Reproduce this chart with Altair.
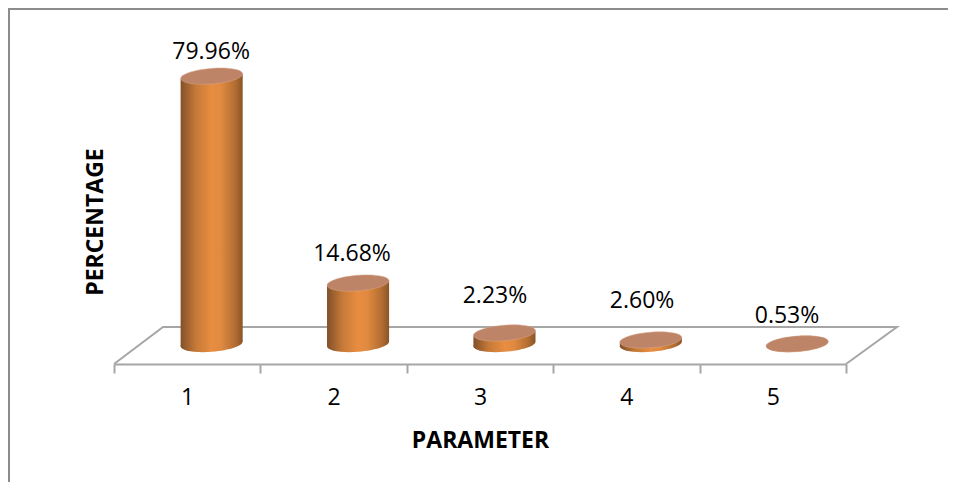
import altair as alt
import pandas as pd

categories = ["1", "2", "3", "4", "5"]
label_texts = ["79.96%", "14.68%", "2.23%", "2.60%", "0.53%"]
# Drawn height of each cylinder in percent units
drawn_heights = [79.96, 18.2, 3.3, 1.2, 0.05]
# Label placement relative to each cylinder
label_lift = [7.2, 8.7, 11.0, 11.6, 8.4]
label_nudge = [0.163, 0.126, 0.102, 0.107, 0.097]

DEPTH_X = 0.167      # the cylinders stand in the middle of the 3D floor
HALF_W = 0.212
TILT = 0.75
FLOOR_FRONT = -5.97
FLOOR_BACK = 5.07
FLOOR_DX = 0.335

FONT = "Open Sans"
GRAY = "#a6a6a6"
W, H = 732, 336
XDOM = [0, 5]
YDOM = [FLOOR_FRONT, 94.33]

centers = [i + 0.5 + DEPTH_X for i in range(5)]
xs = alt.Scale(domain=XDOM, nice=False, zero=False)
ys = alt.Scale(domain=YDOM, nice=False, zero=False)
X = alt.X("x:Q", scale=xs, axis=None)
Y = alt.Y("y:Q", scale=ys, axis=None)

# Band layer: carries the real category axis, ticks at band edges
band_df = pd.DataFrame({"cat": categories, "y": [0] * 5})
axis_layer = alt.Chart(band_df).mark_bar(opacity=0).encode(
    x=alt.X("cat:N", scale=alt.Scale(type="band", paddingInner=0, paddingOuter=0),
            axis=alt.Axis(title="PARAMETER", labelAngle=0, tickBand="extent", grid=False,
                          domainColor=GRAY, domainWidth=2, tickColor=GRAY, tickWidth=2, tickSize=9,
                          labelFont=FONT, labelFontSize=23, labelColor="#000000", labelPadding=13,
                          titleFont=FONT, titleFontSize=23, titleFontWeight="bold",
                          titleColor="#000000", titlePadding=20)),
    y=Y,
)

floor_df = pd.DataFrame({
    "x": [0, FLOOR_DX, 5 + FLOOR_DX + 0.013, 5],
    "y": [FLOOR_FRONT, FLOOR_BACK, FLOOR_BACK, FLOOR_FRONT],
    "o": [0, 1, 2, 3],
})
floor = alt.Chart(floor_df).mark_line(color=GRAY, strokeWidth=2, clip=False).encode(
    x=X, y=Y, order="o:O")

side = alt.LinearGradient(
    gradient="linear", x1=0, x2=1, y1=0, y2=0,
    stops=[alt.GradientStop(color="#82502a", offset=0),
           alt.GradientStop(color="#c67a38", offset=0.25),
           alt.GradientStop(color="#e88d41", offset=0.5),
           alt.GradientStop(color="#e08a40", offset=0.65),
           alt.GradientStop(color="#b36d32", offset=0.88),
           alt.GradientStop(color="#8a5426", offset=1)])

ELLIPSE = "M-1,0.08 A1,0.25 -4.6 1 1 1,-0.08 A1,0.25 -4.6 1 1 -1,0.08 Z"
SIZE = 3844

base_df = pd.DataFrame({"x": centers, "y": [0] * 5})
base = alt.Chart(base_df).mark_point(shape=ELLIPSE, size=SIZE, filled=True, opacity=1, color=side, strokeWidth=0).encode(
    x=X, y=Y)

rows = []
for c, cx, h in zip(categories, centers, drawn_heights):
    rows.append({"cat": c, "x": cx - HALF_W, "y": h - TILT, "y2": -TILT})
    rows.append({"cat": c, "x": cx + HALF_W, "y": h + TILT, "y2": TILT})
body = alt.Chart(pd.DataFrame(rows)).mark_area(color=side, clip=False, interpolate="linear").encode(
    x=X, y=Y, y2="y2:Q", detail="cat:N")

top_df = pd.DataFrame({"x": centers, "y": drawn_heights})
top = alt.Chart(top_df).mark_point(shape=ELLIPSE, size=SIZE, filled=True, opacity=1,
                                   fill="#bd8467", stroke="#d9a98f", strokeWidth=0.5).encode(
    x=X, y=Y)

label_df = pd.DataFrame({
    "x": [i + 0.5 + n for i, n in enumerate(label_nudge)],
    "y": [h + l for h, l in zip(drawn_heights, label_lift)],
    "t": label_texts,
})
labels = alt.Chart(label_df).mark_text(font=FONT, fontSize=23, color="#000000", baseline="middle", align="center").encode(
    x=X, y=Y, text="t:N")

y_title = alt.Chart(pd.DataFrame({"x": [-0.125], "y": [36.4], "t": ["PERCENTAGE"]})).mark_text(
    font=FONT, fontSize=23, fontWeight="bold", color="#000000", angle=270,
    baseline="middle", align="center").encode(x=X, y=Y, text="t:N")

# Frame: only the top and left edges are visible in the reference
frame_top = alt.Chart(pd.DataFrame({"a": [0]})).mark_rule(color="#8c8c8c", strokeWidth=4, clip=False).encode(
    x=alt.value(-106), x2=alt.value(834), y=alt.value(-20))
frame_left = alt.Chart(pd.DataFrame({"a": [0]})).mark_rule(color="#8c8c8c", strokeWidth=4, clip=False).encode(
    x=alt.value(-106), y=alt.value(-20), y2=alt.value(454))

chart = alt.layer(axis_layer, floor, base, body, top, labels, y_title, frame_top, frame_left).resolve_scale(
    x="independent").properties(
    width=W, height=H,
    padding={"left": 106, "right": 102, "top": 20, "bottom": 118},
    autosize=alt.AutoSizeParams(type="none"),
).configure_view(stroke=None)

chart.save("out.html", embed_options={"renderer": "svg", "actions": False})
